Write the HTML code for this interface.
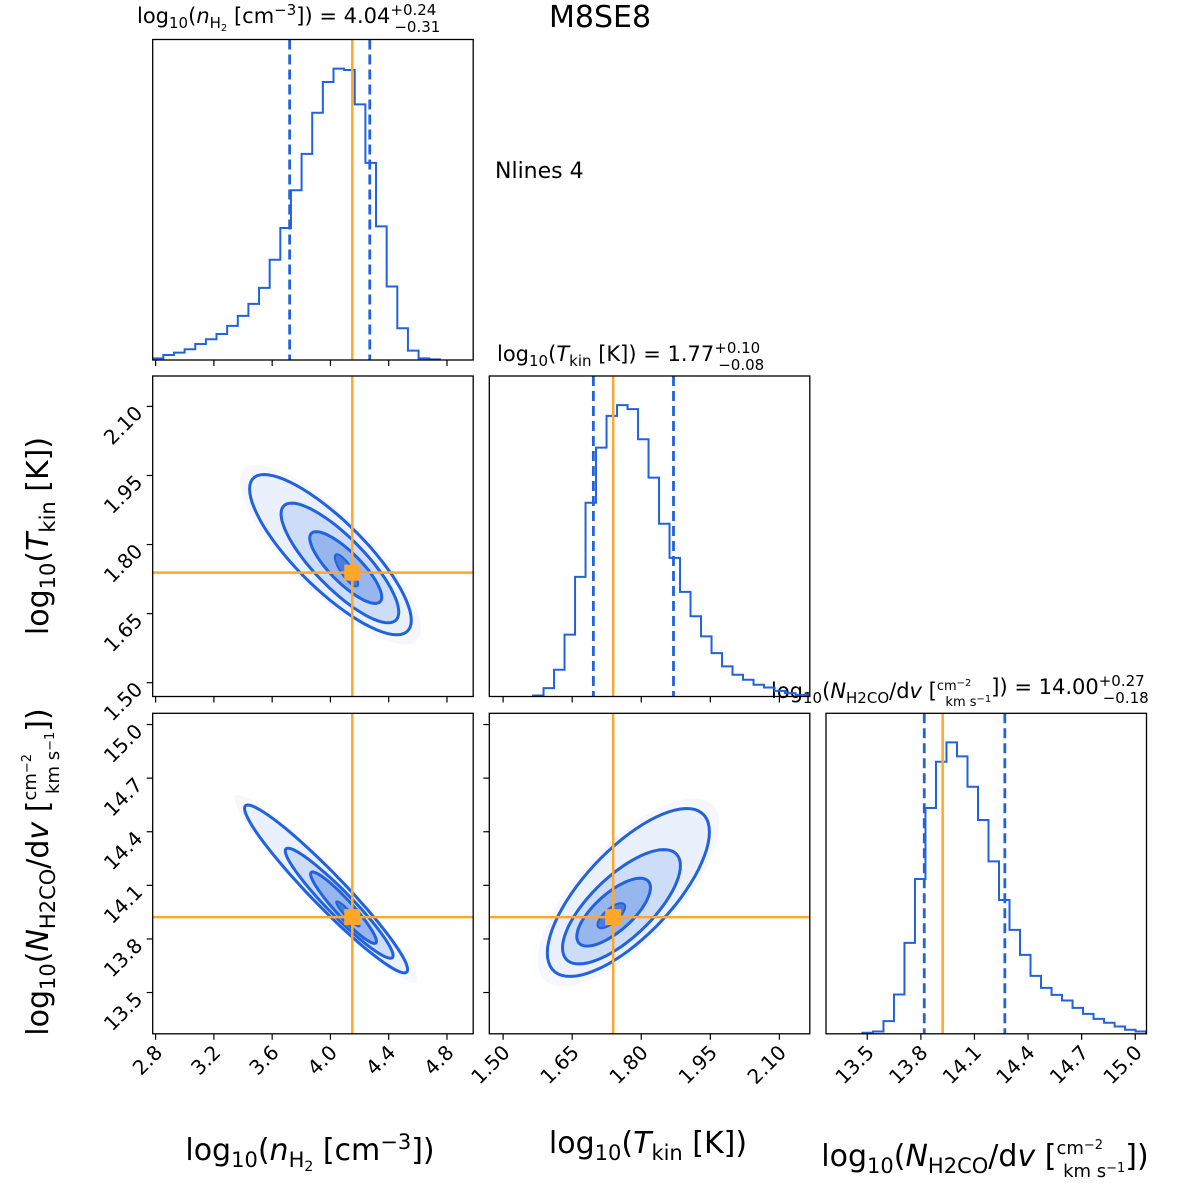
<!DOCTYPE html>
<html><head><meta charset="utf-8"><style>
html,body{margin:0;padding:0;background:#fff;}
svg{display:block;font-family:"DejaVu Sans","Liberation Sans",sans-serif;}
</style></head><body>
<svg id="fig" width="1200" height="1183" viewBox="0 0 1200 1183" xmlns="http://www.w3.org/2000/svg">
<text x="600" y="27" font-size="30" text-anchor="middle">M8SE8</text>
<text x="495" y="178" font-size="22">Nlines 4</text>
<text x="137" y="23" font-size="21">log<tspan font-size="15" dy="5">10</tspan><tspan dy="-5">(</tspan><tspan font-style="italic">n</tspan><tspan font-size="15" dy="5">H</tspan><tspan font-size="10" dy="3">2</tspan><tspan dy="-8"> [cm</tspan><tspan font-size="15" dy="-8">−3</tspan><tspan dy="8">]) = 4.04</tspan><tspan font-size="15" dy="-8">+0.24</tspan><tspan font-size="15" dx="-42" dy="17">−0.31</tspan></text>
<text x="497" y="361" font-size="21">log<tspan font-size="15" dy="5">10</tspan><tspan dy="-5">(</tspan><tspan font-style="italic">T</tspan><tspan font-size="15" dy="5">kin</tspan><tspan dy="-5"> [K]) = 1.77</tspan><tspan font-size="15" dy="-8">+0.10</tspan><tspan font-size="15" dx="-42" dy="17">−0.08</tspan></text>
<text x="771" y="698" font-size="21">log<tspan font-size="15" dy="5">10</tspan><tspan dy="-5">(</tspan><tspan font-style="italic">N</tspan><tspan font-size="15" dy="5">H2CO</tspan><tspan dy="-5">/d</tspan><tspan font-style="italic">v</tspan><tspan> [</tspan><tspan font-size="13" dy="-8">cm</tspan><tspan font-size="10" dy="-4">−2</tspan><tspan font-size="13" dx="-26" dy="20">km s</tspan><tspan font-size="10" dy="-4">−1</tspan><tspan dy="-8">]) = 14.00</tspan><tspan font-size="15" dy="-8">+0.27</tspan><tspan font-size="15" dx="-42" dy="17">−0.18</tspan></text>
<text x="310" y="1160" font-size="30" text-anchor="middle">log<tspan font-size="21" dy="7">10</tspan><tspan dy="-7">(</tspan><tspan font-style="italic">n</tspan><tspan font-size="21" dy="7">H</tspan><tspan font-size="14" dy="4">2</tspan><tspan dy="-11"> [cm</tspan><tspan font-size="21" dy="-11">−3</tspan><tspan dy="11">])</tspan></text>
<text x="648" y="1153" font-size="30" text-anchor="middle">log<tspan font-size="21" dy="7">10</tspan><tspan dy="-7">(</tspan><tspan font-style="italic">T</tspan><tspan font-size="21" dy="7">kin</tspan><tspan dy="-7"> [K])</tspan></text>
<text x="985" y="1166" font-size="30" text-anchor="middle">log<tspan font-size="21" dy="7">10</tspan><tspan dy="-7">(</tspan><tspan font-style="italic">N</tspan><tspan font-size="21" dy="7">H2CO</tspan><tspan dy="-7">/d</tspan><tspan font-style="italic">v</tspan><tspan> [</tspan><tspan font-size="18" dy="-12">cm</tspan><tspan font-size="13" dy="-5">−2</tspan><tspan font-size="18" dx="-40" dy="28">km s</tspan><tspan font-size="13" dy="-5">−1</tspan><tspan dy="-6">])</tspan></text>
<text transform="translate(48,536) rotate(-90)" font-size="30" text-anchor="middle">log<tspan font-size="21" dy="7">10</tspan><tspan dy="-7">(</tspan><tspan font-style="italic">T</tspan><tspan font-size="21" dy="7">kin</tspan><tspan dy="-7"> [K])</tspan></text>
<text transform="translate(48,872) rotate(-90)" font-size="30" text-anchor="middle">log<tspan font-size="21" dy="7">10</tspan><tspan dy="-7">(</tspan><tspan font-style="italic">N</tspan><tspan font-size="21" dy="7">H2CO</tspan><tspan dy="-7">/d</tspan><tspan font-style="italic">v</tspan><tspan> [</tspan><tspan font-size="18" dy="-12">cm</tspan><tspan font-size="13" dy="-5">−2</tspan><tspan font-size="18" dx="-40" dy="28">km s</tspan><tspan font-size="13" dy="-5">−1</tspan><tspan dy="-6">])</tspan></text>
</svg>
<script>
// ---- data ----
const nRange=[2.78,4.98], tRange=[1.47,2.166], cRange=[13.269,15.063];
const nTicks=[2.8,3.2,3.6,4.0,4.4,4.8];
const nTickLabels=["2.8","3.2","3.6","4.0","4.4","4.8"];
const tTicks=[1.50,1.65,1.80,1.95,2.10];
const tTickLabels=["1.50","1.65","1.80","1.95","2.10"];
const cTicks=[13.5,13.8,14.1,14.4,14.7,15.0];
const cTickLabels=["13.5","13.8","14.1","14.4","14.7","15.0"];
const nHistStart=2.78, nHistWidth=0.073;
const nHistCounts=[5,15,22,32,48,62,78,102,132,168,216,300,395,508,617,740,832,872,868,765,590,400,220,95,28,5,2];
const tHistStart=1.565, tHistWidth=0.0228;
const tHistCounts=[3,25,80,185,358,580,745,840,872,860,770,655,517,415,313,240,180,130,90,65,50,35,27,17,10,5,3,2];
const cHistStart=13.473, cHistWidth=0.0588;
const cHistCounts=[3,7,38,118,273,465,678,817,875,833,742,642,518,402,312,237,174,138,117,100,78,60,45,33,22,12,7,4];
const truthValues=[4.15,1.739,13.922];
const nQuantiles=[3.72,4.27], tQuantiles=[1.696,1.87], cQuantiles=[13.819,14.27];
// contour ellipses: center x, center y, extent x, extent y, correlation
const ntCx=[4.00,4.065,4.105,4.11], ntCy=[1.778,1.76,1.75,1.744], ntSx=[0.555,0.404,0.247,0.08], ntSy=[0.174,0.13,0.078,0.035], ntRho=[-0.82,-0.82,-0.82,-0.82];
const ncCx=[3.97,4.06,4.09,4.12], ncCy=[14.08,14.0,13.975,13.94], ncSx=[0.56,0.37,0.226,0.08], ncSy=[0.47,0.308,0.2,0.07], ncRho=[-0.96,-0.95,-0.94,-0.93];
const tcCx=[1.772,1.757,1.74,1.735], tcCy=[14.06,13.98,13.95,13.93], tcSx=[0.176,0.128,0.08,0.03], tcSy=[0.47,0.32,0.19,0.07], tcRho=[0.72,0.72,0.72,0.72];
// ---- layout ----
const NS="http://www.w3.org/2000/svg";
const svg=document.getElementById('fig');
const BLUE="#2262dc", ORANGE="#ffa72a";
const colX=[152.7,489.3,826];const rowY=[39.5,376,713.3];const S=320.5;
function mk(tag,attrs,parent){const e=document.createElementNS(NS,tag);for(const k in attrs)e.setAttribute(k,attrs[k]);(parent||svg).appendChild(e);return e;}
function sx(col,range){return v=>colX[col]+(v-range[0])/(range[1]-range[0])*S;}
function sy(row,range){return v=>rowY[row]+S-(v-range[0])/(range[1]-range[0])*S;}
const ranges=[nRange,tRange,cRange];
const ticks=[nTicks,tTicks,cTicks];const tlabels=[nTickLabels,tTickLabels,cTickLabels];
function panel(r,c,name){
  const g=mk('g',{});
  
  
  const cp=mk('clipPath',{id:'cp'+r+c},g);mk('rect',{x:colX[c],y:rowY[r],width:S,height:S},cp);
  const inner=mk('g',{'clip-path':'url(#cp'+r+c+')'},g);
  return {g,inner};
}
function frame(g,r,c){
  const f=mk('rect',{x:colX[c],y:rowY[r],width:S,height:S,fill:'none',stroke:'#000','stroke-width':1.3},g);
  
  
  const X=sx(c,ranges[c]);
  ticks[c].forEach((t,i)=>{const x=X(t);mk('line',{x1:x,x2:x,y1:rowY[r]+S,y2:rowY[r]+S+6,stroke:'#000','stroke-width':1.2},g);
    if(r===2){const tx=mk('text',{transform:`translate(${x+8},${rowY[r]+S+20}) rotate(-45)`,'font-size':20,'text-anchor':'end'},g);tx.textContent=tlabels[c][i];
      
      }});
  if(r>c){const Y=sy(r,ranges[r]);ticks[r].forEach((t,i)=>{const y=Y(t);mk('line',{x1:colX[c]-6,x2:colX[c],y1:y,y2:y,stroke:'#000','stroke-width':1.2},g);
    if(c===0){const tx=mk('text',{transform:`translate(${colX[c]-9},${y+8}) rotate(-45)`,'font-size':20,'text-anchor':'end'},g);tx.textContent=tlabels[r][i];
      
      }});}
}
function hist(i,start,width,counts,quant,name){
  const p=panel(i,i,name);const X=sx(i,ranges[i]);const mx=Math.max(...counts)*1.1;
  const Y=v=>rowY[i]+S-v/mx*S;
  let d=`M${X(start)},${Y(0)}`;
  counts.forEach((v,k)=>{d+=` L${X(start+k*width)},${Y(v)} L${X(start+(k+1)*width)},${Y(v)}`;});
  d+=` L${X(start+counts.length*width)},${Y(0)}`;
  const h=mk('path',{d,fill:'none',stroke:BLUE,'stroke-width':2},p.inner);
  
  
  quant.forEach(q=>{const l=mk('line',{x1:X(q),x2:X(q),y1:rowY[i],y2:rowY[i]+S,stroke:BLUE,'stroke-width':2.8,'stroke-dasharray':'10,5'},p.inner);
    
    });
  const o=mk('line',{x1:X(truthValues[i]),x2:X(truthValues[i]),y1:rowY[i],y2:rowY[i]+S,stroke:ORANGE,'stroke-width':2.5},p.inner);
  
  
  frame(p.g,i,i);
}
function ellPath(X,Y,cx,cy,ex,ey,rho){let d='';for(let k=0;k<=72;k++){const t=k/72*2*Math.PI;const u=Math.cos(t),w=Math.sin(t);
  const x=cx+ex*u, y=cy+ey*(rho*u+Math.sqrt(1-rho*rho)*w);d+=(k?'L':'M')+X(x).toFixed(1)+','+Y(y).toFixed(1);}return d+'Z';}
function contours(r,c,CX,CY,EX,EY,RHO,name){
  const p=panel(r,c,name);const X=sx(c,ranges[c]),Y=sy(r,ranges[r]);
  const fills=['rgba(215,226,248,0.35)','rgba(175,200,242,0.5)','rgba(110,152,232,0.55)','rgba(45,100,218,0.7)'];
  mk('path',{d:ellPath(X,Y,CX[0],CY[0],EX[0]*1.12,EY[0]*1.12,RHO[0]),fill:'rgba(235,240,252,0.5)'},p.inner);
  CX.forEach((_,k)=>{const f=mk('path',{d:ellPath(X,Y,CX[k],CY[k],EX[k],EY[k],RHO[k]),fill:fills[k]},p.inner);
    
    });
  CX.forEach((_,k)=>{const l=mk('path',{d:ellPath(X,Y,CX[k],CY[k],EX[k],EY[k],RHO[k]),fill:'none',stroke:BLUE,'stroke-width':k==3?2:3},p.inner);
    
    });
  const tx=truthValues[c],ty=truthValues[r];
  const v=mk('line',{x1:X(tx),x2:X(tx),y1:rowY[r],y2:rowY[r]+S,stroke:ORANGE,'stroke-width':2.5},p.inner);
  
  
  const h=mk('line',{x1:colX[c],x2:colX[c]+S,y1:Y(ty),y2:Y(ty),stroke:ORANGE,'stroke-width':2.5},p.inner);
  
  
  const m=mk('rect',{x:X(tx)-8,y:Y(ty)-8,width:16,height:16,fill:ORANGE},p.inner);
  
  
  frame(p.g,r,c);
}
hist(0,nHistStart,nHistWidth,nHistCounts,nQuantiles,'hist-nh2');
hist(1,tHistStart,tHistWidth,tHistCounts,tQuantiles,'hist-tkin');
hist(2,cHistStart,cHistWidth,cHistCounts,cQuantiles,'hist-nh2co');
contours(1,0,ntCx,ntCy,ntSx,ntSy,ntRho,'contour-nh2-tkin');
contours(2,0,ncCx,ncCy,ncSx,ncSy,ncRho,'contour-nh2-nh2co');
contours(2,1,tcCx,tcCy,tcSx,tcSy,tcRho,'contour-tkin-nh2co');
</script>
</body></html>
